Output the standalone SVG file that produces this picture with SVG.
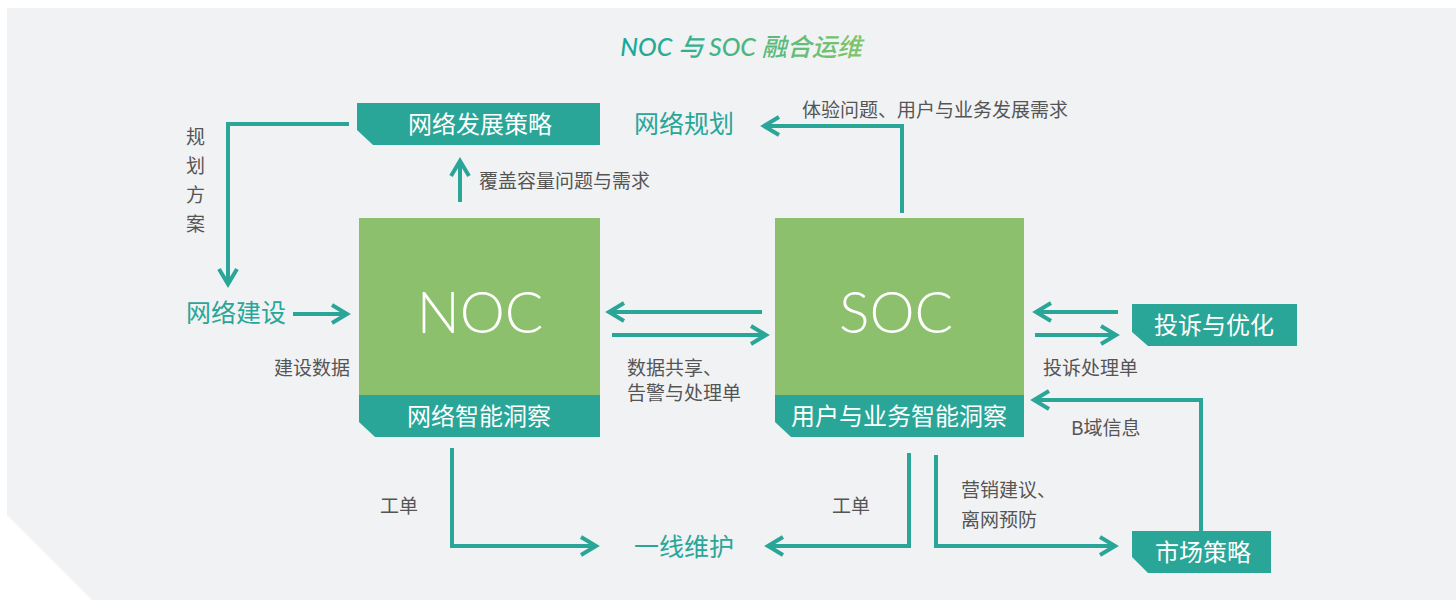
<svg xmlns="http://www.w3.org/2000/svg" width="1456" height="600" viewBox="0 0 1456 600">
<defs>
<linearGradient id="tg" x1="0" y1="0" x2="1" y2="0">
<stop offset="0" stop-color="#16a79b"/>
<stop offset="1" stop-color="#80c56a"/>
</linearGradient>
<marker id="ah" markerUnits="userSpaceOnUse" markerWidth="24" markerHeight="24" viewBox="-20 -12 24 24" refX="0" refY="0" orient="auto" overflow="visible">
<path d="M-15,-9 L0,0 L-15,9" fill="none" stroke="#2aa698" stroke-width="4"/>
</marker>
<style>
.bg{fill:#f1f2f4}
.green{fill:#8dc06d}
.teal{fill:#2aa698}
.lbl{font-family:"Noto Sans CJK SC","Noto Sans",sans-serif;font-size:24px;fill:#ffffff;text-anchor:middle}
.big{font-family:Lato,"Open Sans",sans-serif;font-weight:300;font-size:57px;fill:#ffffff;text-anchor:middle}
.note{font-family:"Noto Sans CJK SC","Noto Sans",sans-serif;font-size:19px;fill:#555555}
.key{font-family:"Noto Sans CJK SC","Noto Sans",sans-serif;font-size:25px;fill:#2aa698}
.conn{fill:none;stroke:#2aa698;stroke-width:4;marker-end:url(#ah)}
</style>
</defs>
<polygon class="bg" points="7,8 1456,8 1456,600 92,600 7,515"/>
<text x="741" y="56" font-family="Lato,'Noto Sans CJK SC',sans-serif" font-style="italic" font-weight="500" font-size="25" fill="url(#tg)" text-anchor="middle">NOC 与 SOC 融合运维</text>

<g id="noc">
<rect class="green" x="359" y="218" width="241" height="178"/>
<polygon class="teal" points="359,395 600,395 600,437 375,437 359,422"/>
<text class="big" x="480" y="333">NOC</text>
<text class="lbl" x="479" y="425">网络智能洞察</text>
</g>
<g id="soc">
<rect class="green" x="775" y="218" width="249" height="178"/>
<polygon class="teal" points="775,395 1024,395 1024,437 791,437 775,422"/>
<text class="big" x="896" y="333">SOC</text>
<text class="lbl" x="899" y="425">用户与业务智能洞察</text>
</g>
<g id="strategy">
<polygon class="teal" points="357,103 600,103 600,145 373,145 357,130"/>
<text class="lbl" x="480" y="133">网络发展策略</text>
</g>
<g id="complaint">
<polygon class="teal" points="1132,304 1297,304 1297,346 1148,346 1132,332"/>
<text class="lbl" x="1214" y="334">投诉与优化</text>
</g>
<g id="market">
<polygon class="teal" points="1132,531 1271,531 1271,573 1148,573 1132,557"/>
<text class="lbl" x="1203" y="561">市场策略</text>
</g>
<g id="build"><text class="key" x="186" y="322">网络建设</text></g>
<g id="plan"><text class="key" x="634" y="133">网络规划</text></g>
<g id="maint"><text class="key" x="634" y="556">一线维护</text></g>

<g id="connectors">
<path class="conn" d="M349,124 H228 V284"/>
<path class="conn" d="M293,314 H347"/>
<path class="conn" d="M460,202 V161"/>
<path class="conn" d="M902,213 V126 H764"/>
<path class="conn" d="M762,312 H609"/>
<path class="conn" d="M612,335 H766"/>
<path class="conn" d="M1118,312 H1036"/>
<path class="conn" d="M1035,335 H1116"/>
<path class="conn" d="M1201,531 V400 H1034"/>
<path class="conn" d="M936,455 V546 H1115"/>
<path class="conn" d="M909,453 V546 H768"/>
<path class="conn" d="M452,448 V546 H596"/>
</g>

<g id="notes">
<text class="note" x="186" y="144">规</text>
<text class="note" x="186" y="173">划</text>
<text class="note" x="186" y="202">方</text>
<text class="note" x="186" y="231">案</text>
<text class="note" x="350" y="375" text-anchor="end">建设数据</text>
<text class="note" x="479" y="188">覆盖容量问题与需求</text>
<text class="note" x="802" y="117">体验问题、用户与业务发展需求</text>
<text class="note" x="627" y="375">数据共享、</text>
<text class="note" x="627" y="400">告警与处理单</text>
<text class="note" x="1043" y="375">投诉处理单</text>
<text class="note" x="1071" y="435">B域信息</text>
<text class="note" x="961" y="497">营销建议、</text>
<text class="note" x="961" y="527">离网预防</text>
<text class="note" x="380" y="513">工单</text>
<text class="note" x="832" y="513">工单</text>
</g>
</svg>
